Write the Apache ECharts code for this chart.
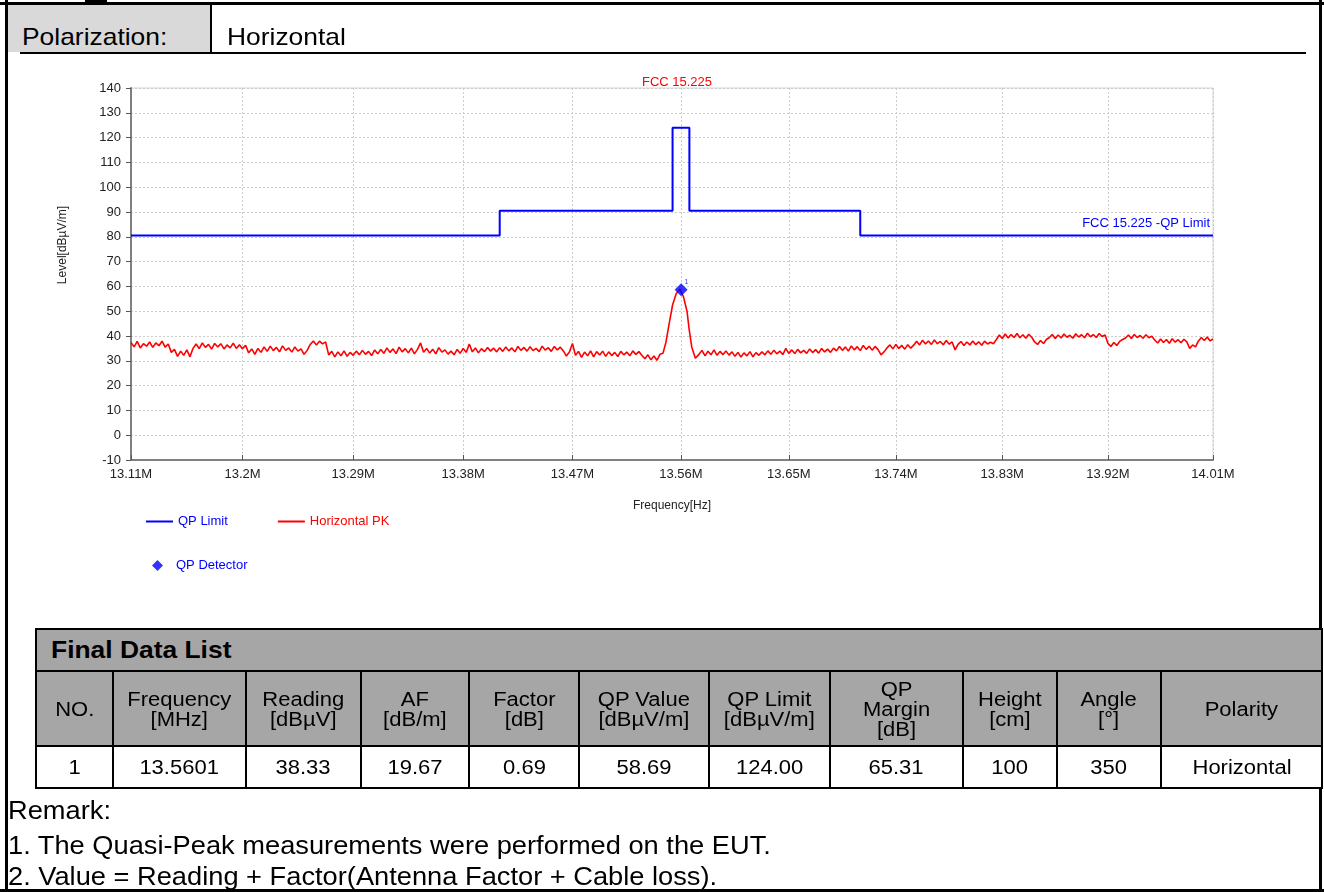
<!DOCTYPE html>
<html>
<head>
<meta charset="utf-8">
<script src="https://cdn.jsdelivr.net/npm/echarts@6/dist/echarts.min.js"></script>
<style>
html,body{margin:0;padding:0;background:#fff;}
body{width:1324px;height:892px;position:relative;overflow:hidden;font-family:"Liberation Sans",Arial,sans-serif;color:#000;}
.abs{position:absolute;}
.blk{position:absolute;background:#000;}
#chart{position:absolute;left:0;top:0;width:1324px;height:892px;}
#tbl{position:absolute;left:35px;top:628px;width:1286px;border-collapse:collapse;table-layout:fixed;}
#tbl td{border:2px solid #000;text-align:center;vertical-align:middle;padding:0;font-size:20px;line-height:20px;}
#tbl tr.t td{background:#a6a6a6;height:40px;text-align:left;padding-left:14px;font-weight:bold;font-size:24px;}
#tbl tr.h td{background:#a6a6a6;height:73px;}
#tbl tr.d td{background:#fff;height:40px;}
.s{display:inline-block;transform:scaleX(1.1);transform-origin:50% 50%;}
#tbl tr.t td .s{transform-origin:0 50%;}
.txt{position:absolute;white-space:nowrap;transform-origin:0 50%;}
</style>
</head>
<body>
<div id="chart"></div>
<div class="blk" style="left:85px;top:0;width:22px;height:2px;"></div>
<div class="blk" style="left:0;top:2px;width:1324px;height:3px;"></div>
<div class="blk" style="left:5px;top:0;width:3px;height:892px;"></div>
<div class="blk" style="left:1319px;top:0;width:3px;height:892px;"></div>
<div class="blk" style="left:0;top:889px;width:1324px;height:3px;"></div>
<div class="abs" style="left:8px;top:5px;width:202px;height:47px;background:#d9d9d9;"></div>
<div class="blk" style="left:210px;top:5px;width:2px;height:48px;"></div>
<div class="blk" style="left:20px;top:52px;width:1286px;height:2px;"></div>
<div class="txt" style="left:22px;top:25px;font-size:24px;line-height:24px;transform:scaleX(1.1);">Polarization:</div>
<div class="txt" style="left:227px;top:25px;font-size:24px;line-height:24px;transform:scaleX(1.1);">Horizontal</div>
<table id="tbl"></table>
<div class="txt" id="rm0" style="left:8px;top:795px;font-size:25px;line-height:31px;transform:scaleX(1.09);"></div>
<div class="txt" id="rm1" style="left:8px;top:830px;font-size:25px;line-height:31px;transform:scaleX(1.09);"></div>
<div class="txt" id="rm2" style="left:8px;top:861px;font-size:25px;line-height:31px;transform:scaleX(1.09);"></div>
<script>
// ---------- data ----------
const freqTicks = [13.11, 13.2, 13.29, 13.38, 13.47, 13.56, 13.65, 13.74, 13.83, 13.92, 14.01];
const limitFreq = [13.11, 13.41, 13.41, 13.553, 13.553, 13.567, 13.567, 13.71, 13.71, 14.01];
const limitLevel = [80.51, 80.51, 90.47, 90.47, 124, 124, 90.47, 90.47, 80.51, 80.51];
const qpFreq = [13.5601];
const qpLevel = [58.69];
const pkTrace = [
[13.1100,37.4],[13.1125,35.6],[13.1150,37.8],[13.1175,35.2],[13.1200,36.9],[13.1225,35.9],[13.1250,37.6],[13.1275,35.4],
[13.1300,37.2],[13.1325,36.1],[13.1350,37.9],[13.1375,35.5],[13.1400,36.8],
[13.1425,33.4],[13.1450,34.6],[13.1475,31.8],[13.1500,33.9],[13.1525,32.2],[13.1550,34.4],[13.1575,31.6],
[13.1600,35.0],[13.1625,36.8],[13.1650,34.9],[13.1675,37.2],[13.1700,35.4],[13.1725,36.6],[13.1750,34.7],[13.1775,37.0],
[13.1800,35.6],[13.1825,36.9],[13.1850,34.8],[13.1875,36.4],[13.1900,35.2],[13.1925,37.1],[13.1950,35.0],[13.1975,36.5],
[13.2000,34.9],[13.2025,36.2],
[13.2050,33.2],[13.2075,34.8],[13.2100,32.6],[13.2125,35.0],[13.2150,33.4],
[13.2175,35.6],[13.2200,33.8],[13.2225,35.9],[13.2250,34.1],[13.2275,35.4],[13.2300,33.6],[13.2325,36.0],[13.2350,34.2],
[13.2375,35.2],[13.2400,33.5],[13.2425,35.6],[13.2450,33.9],[13.2475,34.8],
[13.2500,32.6],[13.2525,34.2],
[13.2550,36.6],[13.2575,38.0],[13.2600,36.4],[13.2625,37.9],[13.2650,36.8],[13.2675,37.6],
[13.2700,32.4],[13.2725,33.8],[13.2750,31.6],[13.2775,33.6],[13.2800,32.0],[13.2825,34.0],[13.2850,31.8],[13.2875,33.4],
[13.2900,32.2],[13.2925,33.9],[13.2950,32.4],[13.2975,34.2],[13.3000,32.6],[13.3025,33.8],[13.3050,32.1],[13.3075,34.4],
[13.3100,32.8],
[13.3125,34.6],[13.3150,33.0],[13.3175,35.2],[13.3200,33.4],[13.3225,34.8],[13.3250,32.9],[13.3275,35.5],[13.3300,33.6],
[13.3325,34.9],[13.3350,33.2],[13.3375,35.1],[13.3400,32.8],[13.3425,34.6],[13.3450,37.2],[13.3475,33.4],[13.3500,35.0],
[13.3525,33.1],[13.3550,34.7],[13.3575,32.8],[13.3600,35.3],[13.3625,33.5],[13.3650,34.4],[13.3675,32.7],[13.3700,33.9],
[13.3725,32.4],[13.3750,34.6],[13.3775,33.0],[13.3800,35.0],[13.3825,33.4],[13.3850,36.8],[13.3875,33.6],[13.3900,35.2],
[13.3925,33.2],[13.3950,34.9],[13.3975,33.7],[13.4000,35.4],[13.4025,33.9],[13.4050,35.1],[13.4075,33.6],
[13.4100,35.3],[13.4125,33.8],[13.4150,35.6],[13.4175,34.0],[13.4200,35.2],[13.4225,33.6],[13.4250,35.8],[13.4275,34.2],
[13.4300,35.4],[13.4325,33.9],[13.4350,35.7],[13.4375,34.1],[13.4400,35.0],[13.4425,33.7],[13.4450,35.9],[13.4475,34.3],
[13.4500,35.3],[13.4525,33.8],[13.4550,35.8],[13.4575,34.4],[13.4600,35.5],[13.4625,34.0],
[13.4650,31.9],[13.4675,33.6],[13.4700,37.0],[13.4725,32.2],[13.4750,33.8],[13.4775,31.4],[13.4800,33.5],[13.4825,32.0],
[13.4850,34.0],[13.4875,31.6],[13.4900,33.7],[13.4925,32.3],[13.4950,33.9],[13.4975,31.8],[13.5000,33.6],[13.5025,32.1],
[13.5050,33.4],[13.5075,31.7],[13.5100,33.8],[13.5125,32.4],[13.5150,33.5],[13.5175,32.0],[13.5200,34.0],[13.5225,32.6],
[13.5250,33.7],[13.5275,32.2],
[13.5300,30.8],[13.5325,32.4],[13.5350,30.4],[13.5375,31.9],[13.5400,30.2],[13.5425,32.6],[13.5450,33.0],
[13.5475,37.5],[13.5500,44.5],[13.5530,52.5],[13.5560,57.0],[13.5590,58.9],[13.5620,56.0],[13.5650,50.0],[13.5670,42.0],
[13.5690,35.5],[13.5720,31.0],
[13.5750,32.6],[13.5775,34.2],[13.5800,32.0],[13.5825,33.9],[13.5850,32.4],[13.5875,34.4],[13.5900,32.2],[13.5925,33.8],
[13.5950,32.5],[13.5975,34.0],[13.6000,32.3],
[13.6025,33.6],[13.6050,31.8],[13.6075,33.4],[13.6100,31.5],[13.6125,33.2],[13.6150,32.0],[13.6175,33.7],[13.6200,31.6],
[13.6225,33.3],[13.6250,32.2],[13.6275,33.6],
[13.6300,32.4],[13.6325,34.0],[13.6350,32.6],[13.6375,34.3],[13.6400,32.8],[13.6425,33.9],[13.6450,32.5],[13.6475,35.0],
[13.6500,33.0],[13.6525,34.4],[13.6550,32.9],[13.6575,34.6],[13.6600,33.2],[13.6625,34.2],[13.6650,33.0],[13.6675,34.8],
[13.6700,33.3],[13.6725,34.5],[13.6750,33.1],[13.6775,35.0],[13.6800,33.6],[13.6825,34.7],[13.6850,33.4],[13.6875,35.1],
[13.6900,34.0],[13.6925,35.8],[13.6950,34.2],[13.6975,35.6],[13.7000,33.9],[13.7025,36.0],[13.7050,34.4],[13.7075,35.7],
[13.7100,34.1],[13.7125,36.2],[13.7150,34.6],[13.7175,35.9],[13.7200,34.3],[13.7225,35.8],[13.7250,34.5],
[13.7275,32.4],[13.7300,33.6],
[13.7325,35.2],[13.7350,36.4],[13.7375,34.8],[13.7400,36.6],[13.7425,35.0],[13.7450,36.2],[13.7475,34.7],[13.7500,36.5],
[13.7525,35.1],[13.7550,36.3],
[13.7575,37.9],[13.7600,36.4],[13.7625,38.3],[13.7650,36.8],[13.7675,38.0],[13.7700,36.6],[13.7725,38.4],[13.7750,36.9],
[13.7775,37.8],[13.7800,36.5],[13.7825,38.2],[13.7850,36.7],[13.7875,37.6],
[13.7900,34.4],
[13.7925,36.6],[13.7950,37.8],[13.7975,36.2],[13.8000,37.6],[13.8025,36.4],[13.8050,38.0],[13.8075,36.5],[13.8100,37.7],
[13.8125,36.3],[13.8150,37.9],[13.8175,36.8],[13.8200,37.5],[13.8225,36.9],
[13.8250,38.6],
[13.8275,40.4],[13.8300,39.0],[13.8325,40.8],[13.8350,39.2],[13.8375,40.6],[13.8400,39.4],[13.8425,41.0],[13.8450,39.3],
[13.8475,40.5],[13.8500,39.1],[13.8525,40.7],[13.8550,39.5],
[13.8575,37.6],[13.8600,36.6],[13.8625,38.2],[13.8650,37.0],[13.8675,38.6],
[13.8700,39.4],[13.8725,40.6],[13.8750,39.0],[13.8775,40.4],[13.8800,39.2],[13.8825,40.8],[13.8850,39.5],[13.8875,40.3],
[13.8900,39.1],[13.8925,40.9],[13.8950,39.6],[13.8975,40.5],[13.9000,39.3],[13.9025,41.1],[13.9050,39.7],[13.9075,40.6],
[13.9100,39.4],[13.9125,41.0],[13.9150,39.8],[13.9175,40.4],
[13.9200,37.0],[13.9225,35.8],[13.9250,37.4],[13.9275,36.2],[13.9300,37.8],[13.9325,38.6],
[13.9350,39.2],[13.9375,40.4],[13.9400,39.0],[13.9425,40.6],[13.9450,39.4],[13.9475,40.2],[13.9500,39.1],[13.9525,40.5],
[13.9550,39.3],[13.9575,39.9],
[13.9600,38.4],[13.9625,37.2],[13.9650,38.8],[13.9675,37.4],[13.9700,38.6],[13.9725,37.1],[13.9750,38.9],[13.9775,37.5],
[13.9800,38.5],[13.9825,37.3],[13.9850,38.7],[13.9875,37.6],
[13.9900,35.0],[13.9925,36.4],[13.9950,35.6],
[13.9975,38.0],[14.0000,39.4],[14.0025,38.2],[14.0050,39.6],[14.0075,38.0],[14.0100,38.8]
];
const tableTitle = 'Final Data List';
const tableHeaders = ['NO.', 'Frequency<br>[MHz]', 'Reading<br>[dBµV]', 'AF<br>[dB/m]', 'Factor<br>[dB]', 'QP Value<br>[dBµV/m]', 'QP Limit<br>[dBµV/m]', 'QP<br>Margin<br>[dB]', 'Height<br>[cm]', 'Angle<br>[°]', 'Polarity'];
const tableValues = ['1', '13.5601', '38.33', '19.67', '0.69', '58.69', '124.00', '65.31', '100', '350', 'Horizontal'];
const colWidths = [77, 133, 115, 108, 110, 130, 121, 133, 94, 104, 161];
const remarks = ['Remark:', '1. The Quasi-Peak measurements were performed on the EUT.', '2. Value = Reading + Factor(Antenna Factor + Cable loss).'];

// ---------- table ----------
const tbl = document.getElementById('tbl');
const wrap = t => '<span class="s">' + t + '</span>';
let html = '<colgroup>' + colWidths.map(w => '<col style="width:' + w + 'px">').join('') + '</colgroup>';
html += '<tr class="t"><td colspan="' + tableHeaders.length + '">' + wrap(tableTitle) + '</td></tr>';
html += '<tr class="h">' + tableHeaders.map(h => '<td>' + wrap(h) + '</td>').join('') + '</tr>';
html += '<tr class="d">' + tableValues.map(v => '<td>' + wrap(v) + '</td>').join('') + '</tr>';
tbl.innerHTML = html;
remarks.forEach((r, i) => { document.getElementById('rm' + i).textContent = r; });

// ---------- chart ----------
const FONT = '"Liberation Sans", Arial, sans-serif';
const chart = echarts.init(document.getElementById('chart'), null, {renderer: 'canvas'});
const option = {
  animation: false,
  backgroundColor: 'transparent',
  textStyle: {fontFamily: FONT},
  title: {
    text: 'FCC 15.225', left: 672, top: 71, textAlign: 'center',
    textStyle: {color: '#ff0000', fontSize: 13, fontWeight: 'normal', fontFamily: FONT}
  },
  grid: {left: 131, top: 88, right: 111, bottom: 432, show: true, borderColor: '#d4d4d4', borderWidth: 1, containLabel: false},
  legend: [
    {
      left: 146, top: 515, padding: 0, icon: 'rect', itemWidth: 27, itemHeight: 2, itemGap: 50, selectedMode: false,
      textStyle: {fontSize: 13, fontFamily: FONT},
      data: [{name: 'QP Limit', textStyle: {color: '#0000ff'}}, {name: 'Horizontal PK', textStyle: {color: '#ff0000'}}]
    },
    {
      left: 152, top: 559, padding: 0, itemWidth: 11, itemHeight: 11, selectedMode: false,
      textStyle: {fontSize: 13, fontFamily: FONT, padding: [0, 0, 0, 8]},
      data: [{name: 'QP Detector', icon: 'diamond', textStyle: {color: '#0000ff', padding: [0, 0, 0, 8]}}]
    }
  ],
  xAxis: {
    type: 'log', logBase: 10, min: 13.11, max: 14.01,
    name: 'Frequency[Hz]', nameLocation: 'middle', nameGap: 40,
    nameTextStyle: {fontSize: 12, color: '#222', fontFamily: FONT},
    axisLine: {show: true, onZero: false, lineStyle: {color: '#808080', width: 2}},
    axisTick: {show: true, inside: true, length: 5, customValues: freqTicks, lineStyle: {color: '#555', width: 1}},
    axisLabel: {customValues: freqTicks, formatter: v => (+v.toFixed(2)) + 'M', fontSize: 13, color: '#222', margin: 8, fontFamily: FONT},
    splitLine: {show: true, lineStyle: {color: '#cccccc', width: 1, type: [2, 2]}},
    minorTick: {show: false}, minorSplitLine: {show: false}
  },
  yAxis: {
    type: 'value', min: -10, max: 140, interval: 10,
    axisLine: {show: true, lineStyle: {color: '#808080', width: 2}},
    axisTick: {show: true, inside: false, length: 5, lineStyle: {color: '#555', width: 1}},
    axisLabel: {fontSize: 13, color: '#222', margin: 10, fontFamily: FONT},
    splitLine: {show: true, lineStyle: {color: '#cccccc', width: 1, type: [2, 2]}}
  },
  graphic: [
    {type: 'text', x: 63, y: 245, rotation: Math.PI / 2,
     style: {text: 'Level[dBµV/m]', fill: '#222', font: '12px ' + FONT, textAlign: 'center', textVerticalAlign: 'middle'}}
  ],
  series: [
    {
      name: 'Horizontal PK', type: 'line', data: pkTrace, symbol: 'none', showSymbol: false,
      lineStyle: {color: '#ff0000', width: 1.6}, itemStyle: {color: '#ff0000'}, z: 2, silent: true
    },
    {
      name: 'QP Limit', type: 'line', symbol: 'none', showSymbol: false,
      data: limitFreq.map((f, i) => [f, limitLevel[i]]),
      lineStyle: {color: '#0000ff', width: 2}, itemStyle: {color: '#0000ff'}, z: 3, silent: true,
      markPoint: {
        symbol: 'circle', symbolSize: 0, silent: true,
        data: [{coord: [limitFreq[limitFreq.length - 1], limitLevel[limitLevel.length - 1]], value: 0}],
        label: {show: true, position: 'left', distance: 3, offset: [0, -12], formatter: 'FCC 15.225 -QP Limit', color: '#0000ff', fontSize: 13, fontFamily: FONT}
      }
    },
    {
      name: 'QP Detector', type: 'scatter', symbol: 'diamond', symbolSize: 13,
      data: qpFreq.map((f, i) => [f, qpLevel[i]]),
      itemStyle: {color: '#0000ff'}, z: 5, silent: true,
      label: {show: true, formatter: '1', position: [10, -5], fontSize: 7, color: '#0000ff', fontFamily: FONT}
    }
  ]
};
chart.setOption(option);
</script>
</body>
</html>
